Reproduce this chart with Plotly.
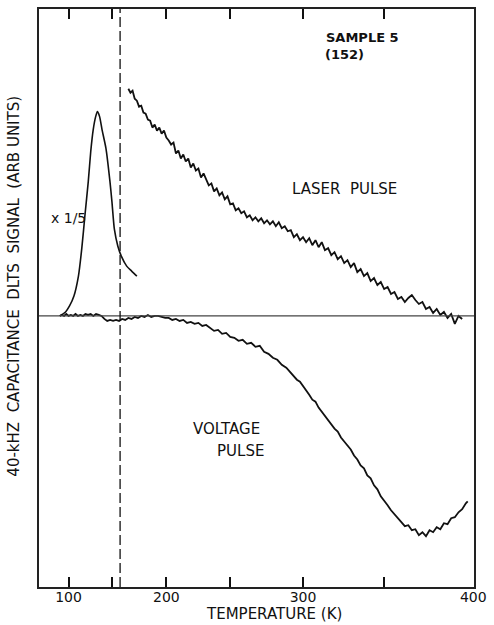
import numpy as np
import plotly.graph_objects as go

# Temperature axis of the recorder is non-linear: position ~ T**1.65
AXIS_POWER = 1.65

# DLTS signal, laser pulse excitation (arb. units vs temperature in K)
laser_T = [166, 168, 170, 172, 174, 176, 178, 180, 182, 184, 186, 188, 190, 192, 194,
           196, 198, 200, 202, 204, 206, 208, 210, 212, 214, 216, 218, 220, 222, 224,
           226, 228, 230, 232, 234, 236, 238, 240, 242, 244, 246, 248, 250, 252, 254,
           256, 258, 260, 262, 264, 266, 268, 270, 272, 274, 276, 278, 280, 282, 284,
           286, 288, 290, 292, 294, 296, 298, 300, 302, 304, 306, 308, 310, 312, 314,
           316, 318, 320, 322, 324, 326, 328, 330, 332, 334, 336, 338, 340, 342, 344,
           346, 348, 350, 352, 354, 356, 358, 360, 362, 364, 366, 368, 370, 372, 374,
           376, 378, 380, 382, 384, 386, 388, 390, 392, 394]
laser_S = [228, 224, 226, 218, 216, 210, 211, 204, 203, 197, 196, 189, 192, 186, 189,
           183, 186, 179, 176, 172, 174, 163, 166, 158, 162, 155, 158, 149, 153, 146,
           148, 139, 143, 136, 131, 133, 125, 128, 121, 124, 117, 120, 112, 113, 106,
           108, 103, 105, 99, 101, 96, 99, 95, 98, 93, 96, 92, 95, 90, 94,
           88, 90, 85, 86, 79, 82, 76, 79, 74, 78, 71, 76, 69, 74, 66,
           68, 61, 64, 57, 60, 53, 56, 49, 53, 44, 47, 40, 43, 35, 38,
           31, 34, 27, 29, 22, 24, 17, 19, 14, 18, 21, 16, 12, 14, 7,
           9, 3, 7, 1, 4, -2, 2, -8, 0, -3]

# DLTS signal, voltage pulse excitation
volt_T = [88, 91, 94, 97, 100, 103, 106, 109, 112, 115, 118, 121, 124, 127, 130,
          133, 136, 139, 142, 145, 148, 151, 154, 157, 160, 163, 166, 169, 172, 175,
          178, 181, 184, 187, 190, 193, 196, 199, 202, 205, 208, 211, 214, 217, 220,
          223, 226, 229, 232, 235, 238, 241, 244, 247, 250, 253, 256, 259, 262, 265,
          268, 271, 274, 277, 280, 283, 286, 289, 292, 294, 296, 298, 300, 302, 304,
          306, 308, 310, 312, 314, 316, 318, 320, 322, 324, 326, 328, 330, 332, 334,
          336, 338, 340, 342, 344, 346, 348, 350, 352, 354, 356, 358, 360, 362, 364,
          366, 368, 370, 372, 374, 376, 378, 380, 382, 384, 386, 388, 390, 392, 394,
          396, 397]
volt_S = [0, 1, 0, 2, 0, 1, 0, 2, 0, 1, 0, 2, 1, 2, 0,
          2, 1, 0, -3, -5, -4, -5, -4, -5, -3, -4, -2, -3, -1, -2,
          0, -1, 1, -1, 0, 0, -1, -2, -2, -4, -3, -5, -4, -7, -6,
          -8, -7, -10, -9, -12, -15, -14, -18, -17, -21, -22, -25, -24, -28, -27,
          -31, -30, -36, -38, -42, -44, -49, -52, -57, -60, -64, -66, -70, -75, -79,
          -84, -86, -92, -96, -101, -104, -108, -113, -116, -122, -126, -130, -134, -140, -144,
          -150, -153, -160, -163, -170, -174, -181, -185, -190, -195, -199, -204, -207, -211, -210,
          -215, -214, -220, -217, -221, -215, -217, -212, -214, -208, -209, -203, -202, -197, -194,
          -188, -186]

# Low-temperature peak, plotted at 1/5 scale
peak_T = [87.7, 96.0, 101.3, 107.0, 112.6, 116.7, 120.3, 124.3, 127.1, 129.9, 132.6,
          134.5, 136.9, 139.5, 143.7, 147.8, 149.8, 152.3, 155.8, 159.2, 164.4, 169.1, 174.0]
peak_S = [0, 4, 10, 20, 40, 68, 100, 135, 165, 187, 200,
          205, 200, 187, 168, 135, 115, 87, 70, 60, 50, 45, 40]

DASH_T = 158
tick_T = [100, 150, 200, 250, 300, 350, 400]
tick_text = ["100", "", "200", "", "300", "", "400"]
x_limits_T = [53.3, 400.4]
y_limits = [-272, 308]


def tx(t):
    return (np.asarray(t, dtype=float) / 100.0) ** AXIS_POWER


FONT = "DejaVu Sans"
INK = "#111111"

fig = go.Figure()
fig.add_trace(go.Scatter(x=tx(peak_T), y=peak_S, mode="lines",
                         line=dict(color=INK, width=1.6, shape="spline", smoothing=0.6)))
fig.add_trace(go.Scatter(x=tx(laser_T), y=laser_S, mode="lines",
                         line=dict(color=INK, width=1.8)))
fig.add_trace(go.Scatter(x=tx(volt_T), y=volt_S, mode="lines",
                         line=dict(color=INK, width=1.8)))

# baseline and dashed marker
fig.add_shape(type="line", xref="x", yref="y", x0=tx(x_limits_T[0]), x1=tx(x_limits_T[1]),
              y0=0, y1=0, line=dict(color="#444444", width=1.2))
fig.add_shape(type="line", xref="x", yref="paper", x0=tx(DASH_T), x1=tx(DASH_T),
              y0=0, y1=1, line=dict(color=INK, width=1.3, dash="10px,4px"))


def label(text, x, y, size=15, xanchor="left", weight="normal", **kw):
    fig.add_annotation(text=text, x=x, y=y, xref="paper", yref="paper", showarrow=False,
                       xanchor=xanchor, yanchor="middle",
                       font=dict(family=FONT, size=size, color=INK, weight=weight), **kw)


label("SAMPLE\u00a05", 0.655, 0.9500, size=13, weight="bold")
label("(152)", 0.653, 0.9215, size=13, weight="bold")
label("LASER\u00a0 PULSE", 0.577, 0.6888)
label("VOLTAGE", 0.432, 0.274, xanchor="center")
label("PULSE", 0.464, 0.236, xanchor="center")
label("x\u00a01/5", 0.024, 0.638, size=14)
label("TEMPERATURE (K)", 0.541, -0.0465, xanchor="center")
label("40-kHZ\u00a0 CAPACITANCE\u00a0 DLTS\u00a0 SIGNAL\u00a0 (ARB UNITS)",
      -0.057, 0.52, size=15, xanchor="center", textangle=-90)

fig.update_layout(
    width=494, height=625,
    margin=dict(l=39, r=13, t=7, b=38),
    paper_bgcolor="white", plot_bgcolor="white",
    showlegend=False,
    xaxis=dict(range=list(tx(x_limits_T)), tickvals=list(tx(tick_T)), ticktext=tick_text,
               ticks="inside", ticklen=10, tickwidth=1.5, tickcolor=INK,
               showline=True, linecolor="#222222", linewidth=2, mirror="ticks",
               showgrid=False, zeroline=False, ticklabelstandoff=-4,
               tickfont=dict(family=FONT, size=14, color=INK)),
    yaxis=dict(range=y_limits, showticklabels=False, ticks="",
               showline=True, linecolor="#222222", linewidth=2, mirror=True,
               showgrid=False, zeroline=False),
)

fig.write_html("out.html")
